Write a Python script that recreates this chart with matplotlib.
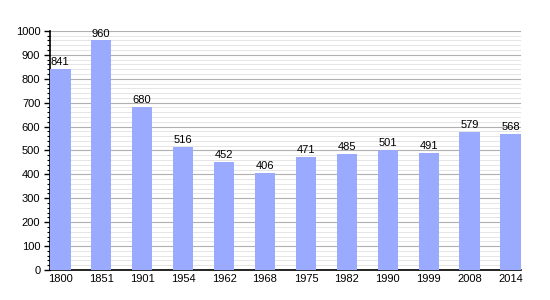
import matplotlib
matplotlib.use("Agg")
import matplotlib.pyplot as plt
from matplotlib.ticker import MultipleLocator

years = ["1800", "1851", "1901", "1954", "1962", "1968", "1975", "1982", "1990", "1999", "2008", "2014"]
population = [841, 960, 680, 516, 452, 406, 471, 485, 501, 491, 579, 568]

plt.rcParams['font.family'] = ['Liberation Sans', 'DejaVu Sans']

fig = plt.figure(figsize=(5.5, 3), dpi=100)
ax = fig.add_axes([0.091, 0.1, 0.856, 0.797])

x = range(len(years))
bars = ax.bar(x, population, width=0.5, color='#99aaff', zorder=3)
for xi, v in zip(x, population):
    ax.text(xi, v + 8, str(v), ha='center', va='bottom', fontsize=8, color='black', zorder=4)

ax.set_xlim(-0.25, 11.25)
ax.set_ylim(0, 1000)
ax.set_xticks(list(x))
ax.set_xticklabels(years)
ax.yaxis.set_major_locator(MultipleLocator(100))
ax.yaxis.set_minor_locator(MultipleLocator(20))
ax.grid(axis='y', which='major', color='#b0b0b0', linewidth=0.8, zorder=0)
ax.grid(axis='y', which='minor', color='#e0e0e0', linewidth=0.6, zorder=0)

for s in ['top', 'right']:
    ax.spines[s].set_visible(False)
ax.spines['left'].set_linewidth(1.2)
ax.spines['bottom'].set_linewidth(1.2)
ax.tick_params(axis='y', which='major', length=4, width=1, labelsize=8, pad=3)
ax.tick_params(axis='y', which='minor', length=2, width=0.8)
ax.tick_params(axis='x', length=0, labelsize=8, pad=3)

fig.savefig("out.png", dpi=100)
